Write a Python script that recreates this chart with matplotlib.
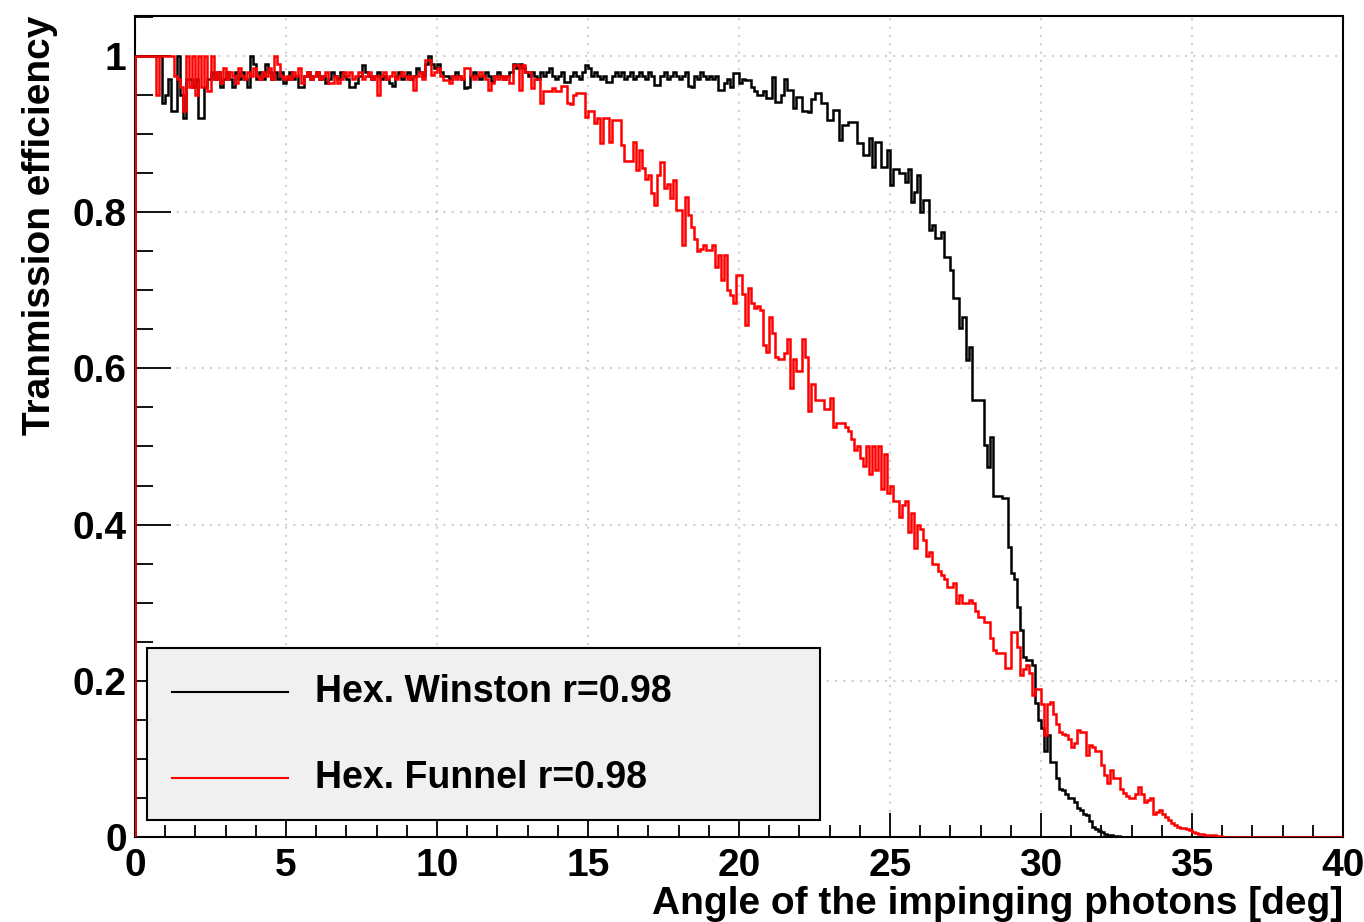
"""
Transmission efficiency of the hexagonal light guides vs. photon angle
"""
# ###
# 1.Import packages
# ###
import matplotlib
matplotlib.use('Agg')
import matplotlib.pyplot as plt
import matplotlib.ticker as ticker
import numpy             as np
from matplotlib.patches import Rectangle
from matplotlib.lines   import Line2D

# ###
# 2.Const variables / data
# ###
# Histogram binning: 400 bins of 0.1 deg from 0 to 40 deg
ANGLE_MIN  = 0.0
ANGLE_MAX  = 40.0
ANGLE_BINS = 400

# Hex. Winston cone, r=0.98 (one row = 1 deg)
winston_eff = [
    1.00, 1.00, 1.00, 1.00, 1.00, 1.00, 1.00, 1.00, 1.00, 0.94,
    0.95, 0.97, 0.93, 0.93, 1.00, 0.95, 0.92, 0.97, 0.97, 0.96,
    0.97, 0.92, 0.92, 0.96, 0.97, 0.98, 0.97, 0.98, 0.96, 0.97,
    0.98, 0.97, 0.96, 0.98, 0.97, 0.98, 0.97, 0.96, 1.00, 0.99,
    0.97, 0.98, 0.97, 0.99, 0.98, 0.97, 0.98, 0.97, 0.98, 0.965,
    0.97, 0.98, 0.97, 0.975, 0.96, 0.96, 0.975, 0.98, 0.97, 0.975,
    0.98, 0.97, 0.975, 0.965, 0.97, 0.98, 0.975, 0.97, 0.98, 0.975,
    0.97, 0.96, 0.96, 0.965, 0.975, 0.988, 0.98, 0.975, 0.97, 0.975,
    0.98, 0.97, 0.975, 0.97, 0.965, 0.962, 0.975, 0.98, 0.97, 0.975,
    0.98, 0.97, 0.975, 0.985, 0.98, 0.975, 0.99, 1.00, 0.99, 0.985,
    0.99, 0.98, 0.975, 0.975, 0.97, 0.975, 0.98, 0.975, 0.97, 0.959,
    0.96, 0.975, 0.98, 0.975, 0.97, 0.975, 0.98, 0.975, 0.968, 0.975,
    0.98, 0.975, 0.97, 0.975, 0.98, 0.99, 0.985, 0.99, 0.985, 0.98,
    0.975, 0.98, 0.975, 0.97, 0.98, 0.975, 0.98, 0.985, 0.975, 0.97,
    0.975, 0.98, 0.967, 0.967, 0.975, 0.98, 0.975, 0.97, 0.98, 0.988,
    0.985, 0.975, 0.98, 0.975, 0.97, 0.975, 0.967, 0.967, 0.975, 0.98,
    0.975, 0.98, 0.97, 0.975, 0.98, 0.97, 0.975, 0.98, 0.975, 0.97,
    0.98, 0.975, 0.963, 0.963, 0.975, 0.98, 0.97, 0.975, 0.98, 0.975,
    0.97, 0.975, 0.98, 0.962, 0.96, 0.975, 0.97, 0.98, 0.975, 0.97,
    0.975, 0.97, 0.975, 0.956, 0.956, 0.965, 0.97, 0.96, 0.978, 0.978,
    0.965, 0.97, 0.969, 0.969, 0.96, 0.955, 0.95, 0.95, 0.955, 0.946,
    0.946, 0.973, 0.941, 0.941, 0.95, 0.97, 0.956, 0.956, 0.933, 0.947,
    0.947, 0.93, 0.93, 0.928, 0.945, 0.952, 0.952, 0.94, 0.94, 0.918,
    0.918, 0.931, 0.931, 0.892, 0.912, 0.912, 0.916, 0.916, 0.916, 0.888,
    0.888, 0.873, 0.873, 0.895, 0.858, 0.89, 0.89, 0.858, 0.858, 0.88,
    0.835, 0.855, 0.855, 0.85, 0.85, 0.839, 0.855, 0.813, 0.826, 0.848,
    0.80, 0.816, 0.816, 0.777, 0.783, 0.767, 0.767, 0.775, 0.743, 0.743,
    0.726, 0.69, 0.69, 0.652, 0.666, 0.611, 0.627, 0.56, 0.56, 0.56,
    0.56, 0.502, 0.474, 0.512, 0.436, 0.436, 0.436, 0.434, 0.434, 0.371,
    0.338, 0.33, 0.295, 0.265, 0.23, 0.226, 0.226, 0.22, 0.171, 0.15,
    0.14, 0.11, 0.13, 0.096, 0.096, 0.075, 0.062, 0.06, 0.055, 0.05,
    0.05, 0.045, 0.037, 0.035, 0.03, 0.028, 0.02, 0.013, 0.01, 0.008,
    0.006, 0.004, 0.003, 0.002, 0.001, 0.001, 0.0, 0.0, 0.0, 0.0,
] + [0.0] * 70

# Hex. Funnel, r=0.98 (one row = 1 deg)
funnel_eff = [
    1.00, 1.00, 1.00, 1.00, 1.00, 1.00, 1.00, 0.95, 1.00, 1.00,
    1.00, 1.00, 1.00, 0.975, 0.97, 0.96, 0.93, 1.00, 0.96, 1.00,
    0.95, 1.00, 0.96, 1.00, 0.955, 1.00, 0.97, 0.98, 0.965, 0.985,
    0.97, 0.98, 0.975, 0.965, 0.985, 0.975, 0.97, 0.98, 0.975, 0.985,
    0.975, 0.97, 0.98, 0.975, 0.985, 0.97, 1.00, 0.99, 0.975, 0.97,
    0.975, 0.97, 0.98, 0.975, 0.985, 0.965, 0.975, 0.98, 0.97, 0.975,
    0.98, 0.97, 0.975, 0.98, 0.965, 0.965, 0.975, 0.965, 0.97, 0.98,
    0.975, 0.98, 0.97, 0.975, 0.98, 0.97, 0.975, 0.98, 0.97, 0.975,
    0.95, 0.975, 0.98, 0.97, 0.975, 0.98, 0.97, 0.975, 0.98, 0.975,
    0.97, 0.975, 0.956, 0.975, 0.98, 0.97, 0.995, 0.995, 0.976, 0.98,
    0.985, 0.975, 0.969, 0.969, 0.965, 0.975, 0.97, 0.975, 0.97, 0.984,
    0.984, 0.975, 0.97, 0.975, 0.98, 0.975, 0.97, 0.956, 0.965, 0.975,
    0.97, 0.975, 0.97, 0.975, 0.965, 0.988, 0.988, 0.956, 0.988, 0.98,
    0.98, 0.959, 0.97, 0.97, 0.94, 0.955, 0.955, 0.955, 0.959, 0.955,
    0.955, 0.962, 0.962, 0.94, 0.939, 0.95, 0.952, 0.952, 0.952, 0.922,
    0.93, 0.93, 0.914, 0.92, 0.889, 0.92, 0.92, 0.89, 0.918, 0.918,
    0.918, 0.886, 0.865, 0.866, 0.866, 0.89, 0.854, 0.88, 0.857, 0.843,
    0.847, 0.824, 0.809, 0.847, 0.864, 0.831, 0.836, 0.818, 0.841, 0.803,
    0.803, 0.758, 0.82, 0.796, 0.781, 0.766, 0.75, 0.753, 0.758, 0.752,
    0.752, 0.758, 0.73, 0.745, 0.713, 0.745, 0.70, 0.694, 0.684, 0.72,
    0.72, 0.695, 0.655, 0.703, 0.684, 0.677, 0.68, 0.675, 0.63, 0.621,
    0.666, 0.645, 0.615, 0.612, 0.612, 0.62, 0.637, 0.575, 0.612, 0.597,
    0.597, 0.637, 0.615, 0.545, 0.58, 0.56, 0.56, 0.56, 0.548, 0.548,
    0.562, 0.525, 0.53, 0.53, 0.53, 0.525, 0.52, 0.51, 0.495, 0.50,
    0.485, 0.475, 0.50, 0.465, 0.50, 0.47, 0.50, 0.445, 0.49, 0.44,
    0.45, 0.43, 0.43, 0.41, 0.425, 0.43, 0.39, 0.415, 0.37, 0.40,
    0.395, 0.38, 0.36, 0.365, 0.35, 0.35, 0.34, 0.335, 0.33, 0.32,
    0.32, 0.325, 0.30, 0.31, 0.30, 0.30, 0.303, 0.30, 0.29, 0.282,
    0.282, 0.275, 0.275, 0.255, 0.24, 0.236, 0.235, 0.235, 0.216, 0.216,
    0.263, 0.263, 0.243, 0.207, 0.215, 0.22, 0.21, 0.182, 0.19, 0.19,
    0.17, 0.13, 0.17, 0.173, 0.158, 0.145, 0.135, 0.132, 0.13, 0.125,
    0.115, 0.12, 0.137, 0.135, 0.135, 0.105, 0.118, 0.115, 0.11, 0.11,
    0.092, 0.08, 0.069, 0.086, 0.075, 0.075, 0.062, 0.056, 0.053, 0.05,
    0.05, 0.055, 0.064, 0.055, 0.045, 0.048, 0.05, 0.03, 0.032, 0.034,
    0.03, 0.025, 0.022, 0.018, 0.015, 0.013, 0.012, 0.011, 0.01, 0.009,
    0.007, 0.005, 0.004, 0.004, 0.003, 0.003, 0.002, 0.002, 0.001, 0.001,
] + [0.0] * 40

SERIES_LABELS = ['Hex. Winston r=0.98', 'Hex. Funnel r=0.98']
SERIES_COLORS = ['k', 'r']

X_TITLE = 'Angle of the impinging photons [deg]'
Y_TITLE = 'Tranmission efficiency'

# Plot
PLOT_X_SIZE = 13.64
PLOT_Y_SIZE = 9.22
PLOT_DPI    = 100
FONT_SIZE   = 28
LINE_WIDTH  = 1.8


# ###
# 3.Define functions
# ###
def draw_legend(ax, labels, colors):
    # ROOT-like TLegend: gray box with line samples
    box = Rectangle((0.0099, 0.0207), 0.5571, 0.2095, transform=ax.transAxes,
                    facecolor='#f0f0f0', edgecolor='k', linewidth=1.5, zorder=10)
    ax.add_patch(box)
    rows_y = [0.1766, 0.0719]
    for label, color, y in zip(labels, colors, rows_y):
        ax.add_line(Line2D([0.0306, 0.1267], [y, y], transform=ax.transAxes,
                           color=color, linewidth=1.5, zorder=11))
        ax.text(0.1490, y, label, transform=ax.transAxes, fontsize=FONT_SIZE - 1,
                fontweight='bold', ha='left', va='center', zorder=11)


def draw_efficiency(image_name='out.png'):
    plt.rcParams['font.family'] = ['Liberation Sans', 'DejaVu Sans']
    plt.rcParams['font.weight'] = 'bold'

    fig = plt.figure(figsize=(PLOT_X_SIZE, PLOT_Y_SIZE), dpi=PLOT_DPI, facecolor='w')
    ax  = fig.add_axes([135 / 1364, 85 / 922, 1208 / 1364, 821 / 922])

    edges = np.linspace(ANGLE_MIN, ANGLE_MAX, ANGLE_BINS + 1)
    for values, color in zip([winston_eff, funnel_eff], SERIES_COLORS):
        ax.stairs(values, edges, baseline=0, color=color, linewidth=LINE_WIDTH, zorder=3)

    ax.set_xlim(ANGLE_MIN, ANGLE_MAX)
    ax.set_ylim(0, 1.0512)

    # Axis ticks, ROOT style (inside, no ticks on the opposite axes)
    ax.xaxis.set_major_locator(ticker.MultipleLocator(5))
    ax.xaxis.set_minor_locator(ticker.MultipleLocator(1))
    ax.yaxis.set_major_locator(ticker.MultipleLocator(0.2))
    ax.yaxis.set_minor_locator(ticker.MultipleLocator(0.05))
    ax.yaxis.set_major_formatter(ticker.FuncFormatter(lambda v, p: '%g' % round(v, 2)))
    ax.tick_params(axis='x', which='major', direction='in', length=17, width=1.3,
                   labelsize=FONT_SIZE, pad=8)
    ax.tick_params(axis='x', which='minor', direction='in', length=8.5, width=1.3)
    ax.tick_params(axis='y', which='major', direction='in', length=26, width=1.3,
                   labelsize=FONT_SIZE, pad=6)
    ax.tick_params(axis='y', which='minor', direction='in', length=13, width=1.3)
    for spine in ax.spines.values():
        spine.set_linewidth(1.5)

    ax.grid(which='major', color='#d0d0d0', linestyle=(0, (1, 3)), linewidth=1.5)
    ax.set_axisbelow(True)

    # Axis titles, aligned to the far end of each axis
    ax.set_xlabel(X_TITLE, fontsize=FONT_SIZE, fontweight='bold', ha='right', va='top')
    ax.xaxis.set_label_coords(1.0, -0.060)
    ax.set_ylabel(Y_TITLE, fontsize=FONT_SIZE, fontweight='bold', loc='top')
    ax.yaxis.set_label_coords(-0.064, 1.0)

    draw_legend(ax, SERIES_LABELS, SERIES_COLORS)

    plt.savefig(image_name, dpi=PLOT_DPI)
    plt.close(fig)


# ###
# 4.Main function
# ###
if __name__ == '__main__':
    draw_efficiency('out.png')
